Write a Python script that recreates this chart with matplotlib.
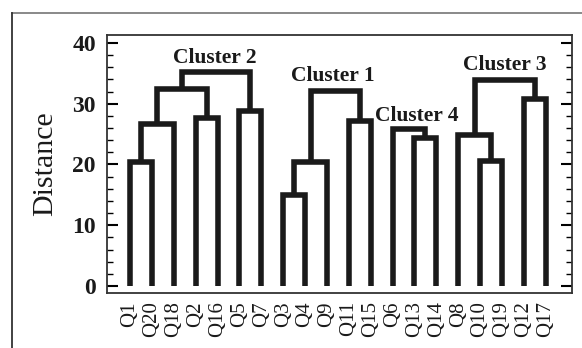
import matplotlib
matplotlib.use("Agg")
import matplotlib.pyplot as plt
from matplotlib.lines import Line2D
from matplotlib.ticker import MultipleLocator

# ---- data ----
leaves = ["Q1", "Q20", "Q18", "Q2", "Q16", "Q5", "Q7", "Q3", "Q4", "Q9",
          "Q11", "Q15", "Q6", "Q13", "Q14", "Q8", "Q10", "Q19", "Q12", "Q17"]
# merges: node name, left child, right child, distance
merge_names = ["m0", "m1", "m2", "m3", "m4", "m5",
               "m6", "m7", "m8", "m9",
               "m10", "m11",
               "m12", "m13", "m14", "m15"]
merge_left = ["Q1", "m0", "Q2", "m1", "Q5", "m3",
              "Q3", "m6", "Q11", "m7",
              "Q13", "Q6",
              "Q10", "Q8", "Q12", "m13"]
merge_right = ["Q20", "Q18", "Q16", "m2", "Q7", "m4",
               "Q4", "Q9", "Q15", "m8",
               "Q14", "m10",
               "Q19", "m12", "Q17", "m14"]
merge_height = [20.4, 26.7, 27.6, 32.4, 28.8, 35.2,
                15.0, 20.4, 27.2, 32.1,
                24.4, 25.8,
                20.6, 24.9, 30.8, 33.9]
cluster_labels = ["Cluster 2", "Cluster 1", "Cluster 4", "Cluster 3"]
cluster_x = [3.87, 9.25, 13.12, 17.13]
cluster_y = [36.7, 33.7, 27.2, 35.6]
yticks = [0, 10, 20, 30, 40]

# ---- figure ----
fig = plt.figure(figsize=(5.82, 3.48), dpi=100)
ax = fig.add_axes([107/582, 1-293/348, (572-107)/582, (293-35)/348])

pos = {name: (i, 0.0) for i, name in enumerate(leaves)}
col = "#1a1a1a"
for name, a, b, h in zip(merge_names, merge_left, merge_right, merge_height):
    xa, ya = pos[a]
    xb, yb = pos[b]
    ax.plot([xa, xa, xb, xb], [ya, h, h, yb], color=col, lw=4.0,
            solid_joinstyle="miter", solid_capstyle="butt")
    pos[name] = ((xa + xb) / 2, h)

ax.set_xlim(-1.05, 20.2)
ax.set_ylim(-1.15, 41.3)
ax.set_xticks(range(len(leaves)))
ax.set_xticklabels(leaves, rotation=90, fontsize=15, family="Liberation Serif",
                   color="#1a1a1a")
ax.tick_params(axis="x", length=0, pad=6)
ax.set_yticks(yticks)
ax.set_yticklabels([str(t) for t in yticks], fontsize=17, fontweight="bold",
                   family="Liberation Serif", color="#1a1a1a")
ax.yaxis.set_minor_locator(MultipleLocator(2))
ax.tick_params(axis="y", which="major", direction="in", length=8, width=1.5,
               right=True, pad=8)
ax.tick_params(axis="y", which="minor", direction="in", length=4, width=1.0,
               right=True)
for s in ax.spines.values():
    s.set_linewidth(1.3)
    s.set_color("#333333")
ax.set_ylabel("Distance", fontsize=21.5, family="Liberation Serif", labelpad=10,
              color="#1a1a1a")

for t, x, y in zip(cluster_labels, cluster_x, cluster_y):
    ax.text(x, y, t, ha="center", va="baseline", fontsize=15.5,
            fontweight="bold", family="Liberation Serif", color="#1a1a1a")

# outer frame lines (figure coordinates)
fig.add_artist(Line2D([12/582, 1], [1-13/348, 1-13/348], color="#808080", lw=1.3,
                      transform=fig.transFigure))
fig.add_artist(Line2D([12/582, 12/582], [0, 1-13/348], color="#333333", lw=1.3,
                      transform=fig.transFigure))

fig.savefig("out.png", dpi=100)
